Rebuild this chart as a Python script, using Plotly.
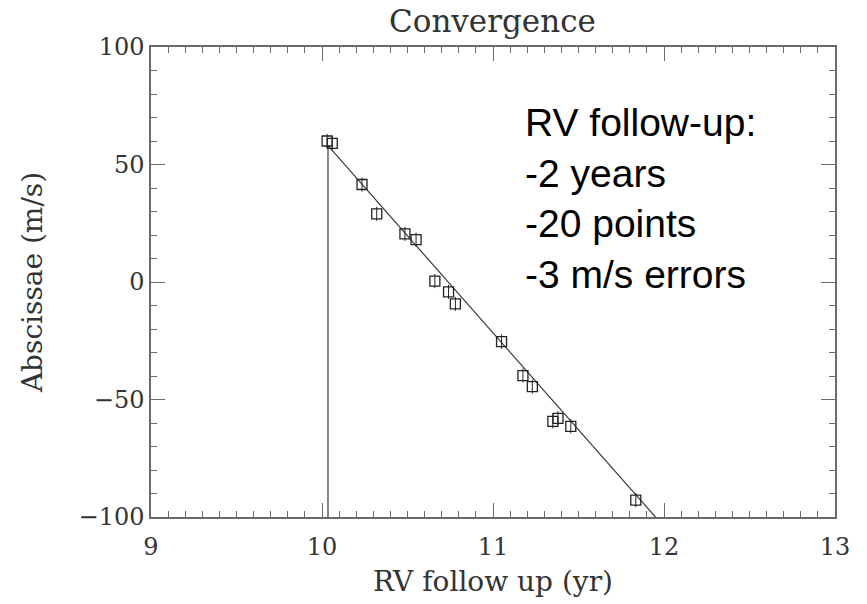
import plotly.graph_objects as go

# Data
obs_time = [10.03, 10.06, 10.234, 10.32, 10.485, 10.55, 10.66, 10.74, 10.78,
            11.05, 11.175, 11.23, 11.35, 11.38, 11.455, 11.835]
obs_abscissa = [60.0, 59.0, 41.5, 29.0, 20.5, 18.0, 0.4, -4.2, -9.3,
                -25.4, -39.8, -44.5, -59.3, -58.0, -61.4, -92.8]
obs_error = [3.0] * len(obs_time)

model_time = [10.035, 10.035, 11.95]
model_abscissa = [-100.0, 58.0, -100.0]

x_ticks = [9, 10, 11, 12, 13]
y_ticks = [-100, -50, 0, 50, 100]

title_text = "Convergence"
x_label = "RV follow up (yr)"
y_label = "Abscissae (m/s)"
note_lines = ["RV follow-up:", "-2 years", "-20 points", "-3 m/s errors"]

SERIF = "DejaVu Serif"
AXIS_COLOR = "#6a6a6a"
TEXT_COLOR = "#333333"

fig = go.Figure()

fig.add_trace(go.Scatter(
    x=model_time, y=model_abscissa, mode="lines",
    line=dict(color="#3a3a3a", width=1.2),
    showlegend=False, hoverinfo="skip",
))

fig.add_trace(go.Scatter(
    x=obs_time, y=obs_abscissa, mode="markers",
    marker=dict(symbol="square-open", size=10, color="#222222",
                line=dict(color="#222222", width=1.3)),
    error_y=dict(type="data", array=obs_error, visible=True,
                 color="#222222", thickness=1, width=0),
    showlegend=False,
))

axis_common = dict(
    showgrid=False, zeroline=False,
    showline=True, linecolor=AXIS_COLOR, linewidth=1.5,
    mirror="ticks", ticks="inside", ticklen=14, tickwidth=1,
    tickcolor=AXIS_COLOR,
    tickfont=dict(family=SERIF, size=24, color=TEXT_COLOR),
)

fig.update_xaxes(
    range=[9, 13], tickvals=x_ticks, ticktext=[str(v) for v in x_ticks],
    ticklabelstandoff=7,
    minor=dict(dtick=0.1, ticks="inside", ticklen=6, tickwidth=1,
               tickcolor=AXIS_COLOR, showgrid=False),
    title=dict(text=x_label, font=dict(family=SERIF, size=28, color=TEXT_COLOR),
               standoff=12),
    **axis_common,
)
fig.update_yaxes(
    range=[-100, 100], tickvals=y_ticks,
    ticktext=["\u2212100", "\u221250", "0", "50", "100"],
    minor=dict(dtick=10, ticks="inside", ticklen=6, tickwidth=1,
               tickcolor=AXIS_COLOR, showgrid=False),
    title=dict(text=y_label, font=dict(family=SERIF, size=28, color=TEXT_COLOR),
               standoff=28),
    **axis_common,
)

fig.add_annotation(
    xref="paper", yref="paper", x=0.544, y=0.89,
    xanchor="left", yanchor="top", align="left", showarrow=False,
    text="<br>".join(note_lines),
    font=dict(family="Liberation Sans, Arial", size=39, color="#000000"),
)

fig.update_layout(
    width=867, height=604,
    margin=dict(l=151, r=32, t=47, b=85),
    paper_bgcolor="white", plot_bgcolor="white",
    title=dict(text=title_text, x=0.568, xanchor="center", y=0.965, yanchor="middle",
               font=dict(family=SERIF, size=31, color=TEXT_COLOR)),
)

fig.write_html("out.html")
